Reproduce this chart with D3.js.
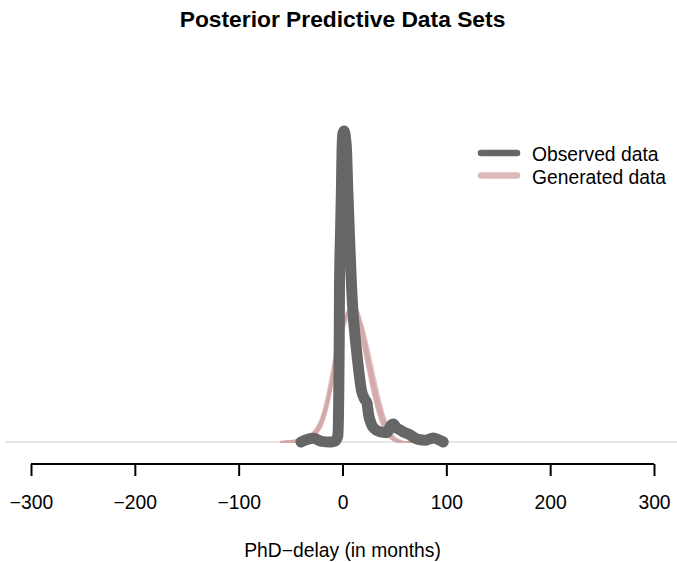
<!DOCTYPE html>
<html>
<head>
<meta charset="utf-8">
<script src="https://cdn.jsdelivr.net/npm/d3@7"></script>
<style>
  html, body { margin: 0; padding: 0; background: #ffffff; }
  svg { display: block; font-family: "Liberation Sans", Arial, sans-serif; }
</style>
</head>
<body>
<svg id="chart" width="677" height="562"></svg>
<script>
// Observed PhD-delay density (x in months, y = density)
const observedX = [-40, -34, -28, -20, -12, -7, -4.5, -3.6, -3.1, -2.9, -2, -1, -0.5, 0.3, 1.4, 2.8, 4, 5, 7, 8.7, 10.5, 13, 16, 18, 21, 23.6, 25, 27.5, 30, 36, 42.6, 47, 49, 52, 55, 60, 65, 70, 74.7, 80, 87.5, 92, 97];
const observedY = [0, 0.0008, 0.0012, 0.0002, 0, 0.0003, 0.002, 0.015, 0.035, 0.05, 0.066, 0.082, 0.093, 0.099, 0.1, 0.098, 0.093, 0.082, 0.064, 0.05, 0.04, 0.031, 0.022, 0.017, 0.014, 0.0125, 0.009, 0.006, 0.0045, 0.0033, 0.003, 0.0055, 0.0058, 0.0045, 0.004, 0.003, 0.0023, 0.0012, 0.0007, 0.0006, 0.0013, 0.0008, 0];

// Posterior predictive densities, all on one x grid
const generatedX = [-60, -50, -40, -30, -20, -15, -10, -5, 0, 5, 10, 15, 20, 25, 30, 35, 40, 45, 50, 55, 60, 70, 80];
const generated1 = [0, 0, 0.0003, 0.0016, 0.0061, 0.0116, 0.0193, 0.0289, 0.0370, 0.0412, 0.0424, 0.0402, 0.0334, 0.0251, 0.0170, 0.0103, 0.0051, 0.0019, 0.0006, 0, 0, 0, 0];
const generated2 = [0, 0, 0.0006, 0.0023, 0.0077, 0.0138, 0.0222, 0.0312, 0.0379, 0.0418, 0.0421, 0.0386, 0.0309, 0.0225, 0.0148, 0.0087, 0.0042, 0.0016, 0.0006, 0, 0, 0, 0];
const generated3 = [0, 0, 0.0003, 0.0013, 0.0051, 0.0103, 0.0180, 0.0276, 0.0367, 0.0418, 0.0437, 0.0418, 0.0360, 0.0283, 0.0199, 0.0125, 0.0068, 0.0029, 0.0010, 0.0003, 0, 0, 0];
const generated4 = [0, 0.0003, 0.0006, 0.0019, 0.0068, 0.0125, 0.0203, 0.0293, 0.0363, 0.0402, 0.0412, 0.0395, 0.0347, 0.0280, 0.0206, 0.0135, 0.0077, 0.0035, 0.0013, 0.0003, 0, 0, 0];
const generated5 = [0, 0.0003, 0.0010, 0.0026, 0.0084, 0.0148, 0.0235, 0.0318, 0.0376, 0.0405, 0.0405, 0.0373, 0.0302, 0.0222, 0.0145, 0.0084, 0.0039, 0.0016, 0.0003, 0, 0, 0, 0];
const generated6 = [0, 0, 0.0003, 0.0016, 0.0058, 0.0113, 0.0193, 0.0289, 0.0373, 0.0421, 0.0434, 0.0412, 0.0347, 0.0264, 0.0180, 0.0109, 0.0058, 0.0023, 0.0006, 0, 0, 0, 0];
const generated7 = [0, 0, 0.0003, 0.0019, 0.0064, 0.0119, 0.0196, 0.0283, 0.0354, 0.0395, 0.0412, 0.0405, 0.0367, 0.0302, 0.0225, 0.0151, 0.0087, 0.0042, 0.0016, 0.0006, 0, 0, 0];
const generated8 = [0, 0, 0.0006, 0.0019, 0.0071, 0.0129, 0.0212, 0.0302, 0.0373, 0.0412, 0.0415, 0.0389, 0.0325, 0.0244, 0.0164, 0.0100, 0.0051, 0.0023, 0.0006, 0, 0, 0, 0];
const generated9 = [0, 0, 0.0003, 0.0013, 0.0055, 0.0106, 0.0183, 0.0280, 0.0370, 0.0421, 0.0440, 0.0421, 0.0357, 0.0270, 0.0183, 0.0109, 0.0058, 0.0023, 0.0006, 0, 0, 0, 0];
const generated10 = [0, 0.0003, 0.0006, 0.0019, 0.0068, 0.0122, 0.0203, 0.0296, 0.0367, 0.0405, 0.0412, 0.0392, 0.0341, 0.0273, 0.0199, 0.0132, 0.0074, 0.0032, 0.0013, 0.0003, 0, 0, 0];
const generated11 = [0, 0, 0.0003, 0.0016, 0.0061, 0.0116, 0.0193, 0.0286, 0.0367, 0.0412, 0.0428, 0.0412, 0.0354, 0.0273, 0.0190, 0.0116, 0.0061, 0.0026, 0.0010, 0.0003, 0, 0, 0];
const generated12 = [0, 0.0003, 0.0006, 0.0023, 0.0074, 0.0135, 0.0219, 0.0309, 0.0376, 0.0408, 0.0408, 0.0379, 0.0312, 0.0231, 0.0154, 0.0090, 0.0045, 0.0019, 0.0006, 0, 0, 0, 0];
const generatedSeries = [generated1, generated2, generated3, generated4, generated5, generated6,
                         generated7, generated8, generated9, generated10, generated11, generated12];

const xTicks = [-300, -200, -100, 0, 100, 200, 300];
const legendLabels = ["Observed data", "Generated data"];

const titleText = "Posterior Predictive Data Sets";
const xLabelText = "PhD\u2212delay (in months)";

const observedColor = "#666666";
const generatedColor = "#d4a9a9";

const svg = d3.select("#chart");

const x = d3.scaleLinear().domain([-300, 300]).range([31, 654]);
const y = d3.scaleLinear().domain([0, 0.1]).range([442, 131]);

// zero-density baseline
svg.append("line")
  .attr("x1", 5).attr("x2", 677)
  .attr("y1", y(0)).attr("y2", y(0))
  .attr("stroke", "#cfcfcf").attr("stroke-width", 1.2);

const line = d3.line()
  .x(d => x(d[0]))
  .y(d => y(d[1]))
  .curve(d3.curveMonotoneX);

// generated densities
svg.append("g").selectAll("path")
  .data(generatedSeries)
  .join("path")
  .attr("d", s => line(generatedX.map((v, i) => [v, s[i]])))
  .attr("fill", "none")
  .attr("stroke", generatedColor)
  .attr("stroke-opacity", 0.6)
  .attr("stroke-width", 2)
  .attr("stroke-linejoin", "round");

// observed density
svg.append("path")
  .attr("d", line(observedX.map((v, i) => [v, observedY[i]])))
  .attr("fill", "none")
  .attr("stroke", observedColor)
  .attr("stroke-width", 11)
  .attr("stroke-linecap", "round")
  .attr("stroke-linejoin", "round");

// x axis
const axis = d3.axisBottom(x)
  .tickValues(xTicks)
  .tickSize(12)
  .tickPadding(19)
  .tickFormat(d => d < 0 ? "\u2212" + Math.abs(d) : String(d));

const gAxis = svg.append("g")
  .attr("transform", "translate(0,464)")
  .call(axis);
gAxis.select(".domain").attr("stroke", "#000").attr("stroke-width", 2)
  .attr("d", `M${x(-300)},0H${x(300)}`);
gAxis.selectAll(".tick line").attr("stroke", "#000").attr("stroke-width", 2);
gAxis.selectAll(".tick text")
  .attr("fill", "#000")
  .style("font-size", "19.3px")
  .style("font-family", "'Liberation Sans', Arial, sans-serif");

// axis label
svg.append("text")
  .attr("x", x(0)).attr("y", 557)
  .attr("text-anchor", "middle")
  .style("font-size", "19.3px")
  .text(xLabelText);

// title
svg.append("text")
  .attr("x", x(0)).attr("y", 27)
  .attr("text-anchor", "middle")
  .style("font-size", "22.8px")
  .style("font-weight", "bold")
  .text(titleText);

// legend
const legend = svg.append("g");
const legendColors = [observedColor, generatedColor];
legendLabels.forEach((lab, i) => {
  const ly = 153 + i * 22.5;
  legend.append("line")
    .attr("x1", 481).attr("x2", 517)
    .attr("y1", ly).attr("y2", ly)
    .attr("stroke", legendColors[i])
    .attr("stroke-opacity", i === 1 ? 0.8 : 1)
    .attr("stroke-width", 6.5)
    .attr("stroke-linecap", "round");
  legend.append("text")
    .attr("x", 532).attr("y", ly + 8)
    .style("font-size", "19.3px")
    .text(lab);
});
</script>
</body>
</html>
